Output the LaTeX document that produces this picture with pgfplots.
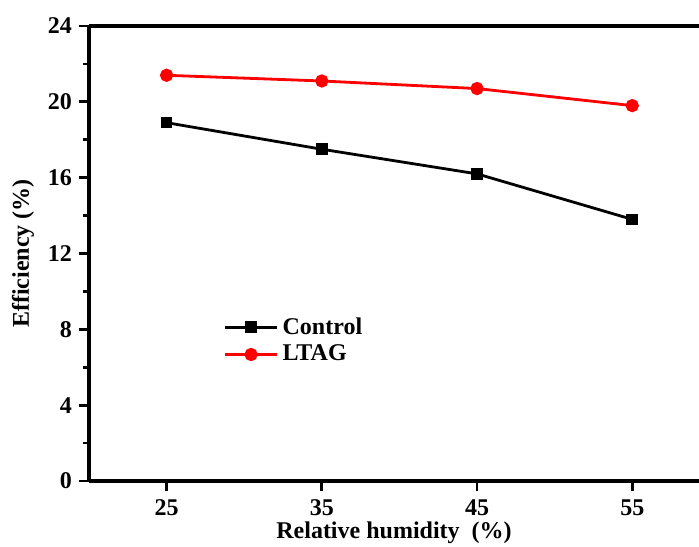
\documentclass[border=0pt]{standalone}
\usepackage{pgfplots}
\pgfplotsset{compat=1.18}
\usepackage{fontspec}
\setmainfont{Liberation Serif}

\begin{document}
\begin{tikzpicture}
\useasboundingbox (-44.5pt,-32.5pt) rectangle (305pt,240.5pt);
\begin{axis}[
  at={(0,0)}, anchor=south west,
  scale only axis, width=305pt, height=227.5pt,
  xmin=20, xmax=59.3, ymin=0, ymax=24,
  axis x line*=box, axis y line*=left,
  axis line style={line width=1.9pt},
  xtick={25,35,45,55}, xtick pos=bottom,
  ytick={0,4,8,12,16,20,24}, ytick pos=left,
  minor y tick num=1,
  tick align=outside,
  major tick length=5pt, minor tick length=3pt,
  every tick/.style={line width=1.4pt, black},
  /pgf/number format/assume math mode=true,
  ticklabel style={font=\fontsize{12}{14}\selectfont\bfseries},
  xticklabel style={yshift=-1pt},
  xlabel={Relative humidity~~(\%)},
  ylabel={Efficiency (\%)},
  label style={font=\fontsize{12}{14}\selectfont\bfseries},
  xlabel style={at={(0.5,0)}, anchor=north, yshift=-17pt},
  ylabel style={at={(0,0.5)}, anchor=south, xshift=0pt, yshift=24pt},
  legend style={draw=none, fill=none, at={(0.21,0.378)}, anchor=north west,
    font=\fontsize{12}{14}\selectfont\bfseries, row sep=0pt,
    nodes={inner xsep=2pt}},
  legend cell align=left,
  legend image code/.code={\draw[mark repeat=2,mark phase=2] plot coordinates {(0cm,0cm)(0.46cm,0cm)(0.92cm,0cm)};},
  clip=false,
]
\addplot[black, line width=1.4pt, mark=square*, mark size=2.2pt, mark options={solid}] coordinates {
  (25,18.9)(35,17.5)(45,16.2)(55,13.8)};
\addlegendentry{Control}
\addplot[red, line width=1.4pt, mark=*, mark size=2.6pt, mark options={solid}] coordinates {
  (25,21.4)(35,21.1)(45,20.7)(55,19.8)};
\addlegendentry{LTAG}
\end{axis}
\end{tikzpicture}
\end{document}
